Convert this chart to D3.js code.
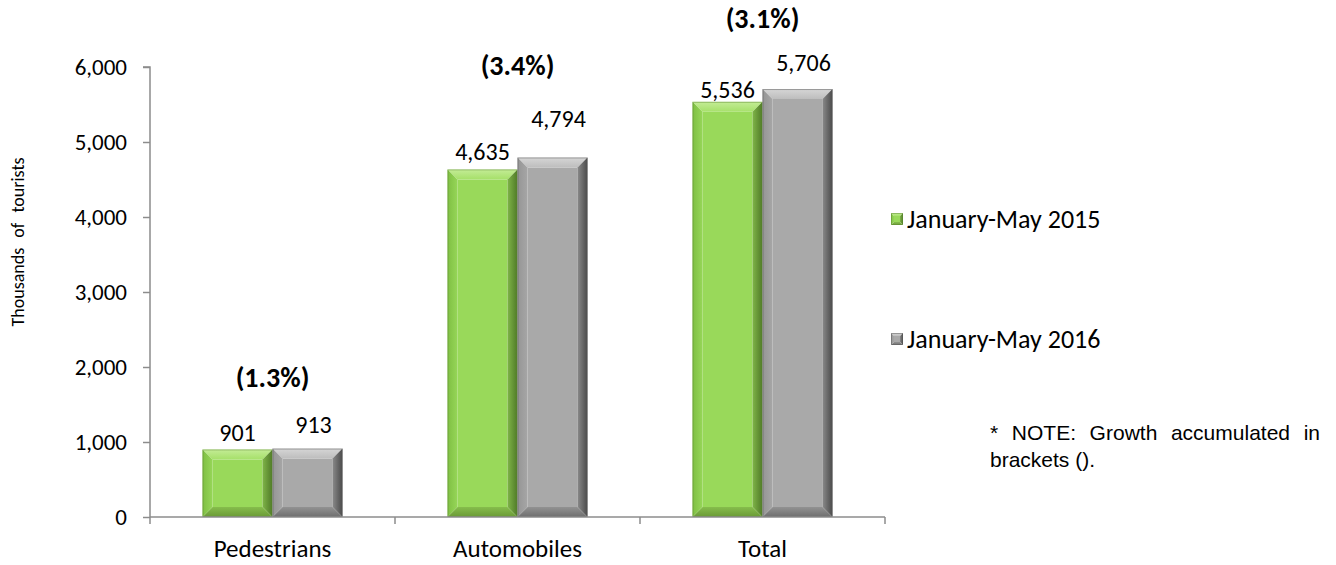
<!DOCTYPE html>
<html>
<head>
<meta charset="utf-8">
<script src="https://cdn.jsdelivr.net/npm/d3@7"></script>
<style>
  html, body { margin: 0; padding: 0; background: #fff; }
  svg text { font-family: Carlito, Calibri, Lato, "Open Sans", sans-serif; fill: #000; }
</style>
</head>
<body>
<svg id="chart" width="1336" height="565"></svg>
<script>
// Tourist arrivals by mode of entry, thousands
const categories = ["Pedestrians", "Automobiles", "Total"];
const seriesNames = ["January-May 2015", "January-May 2016"];
const values2015 = [901, 4635, 5536];
const values2016 = [913, 4794, 5706];
const growthLabels = ["(1.3%)", "(3.4%)", "(3.1%)"];
const yTicks = [0, 1000, 2000, 3000, 4000, 5000, 6000];

const svg = d3.select("#chart");
const m = { left: 150, right: 885, top: 67, bottom: 517 };

// label placement (pixels above the bar top)
const valueLabelDy = [[-8, -9, -4], [-16, -30, -18]];
const valueLabelDx = [0, 6];
const growthLabelDy = [-62, -82, -61];

const x = d3.scaleBand().domain(categories).range([m.left, m.right]).paddingInner(0).paddingOuter(0);
const xs = d3.scaleBand().domain([0, 1]).range([0, x.bandwidth()]).paddingInner(0).paddingOuter(0.75);
const y = d3.scaleLinear().domain([0, 6000]).range([m.bottom, m.top]);

// gradients for the bevelled edges
const defs = svg.append("defs");
function grad(id, x2, y2, stops) {
  const g = defs.append("linearGradient").attr("id", id)
    .attr("x1", 0).attr("y1", 0).attr("x2", x2).attr("y2", y2);
  stops.forEach(([o, c]) => g.append("stop").attr("offset", o).attr("stop-color", c));
  return `url(#${id})`;
}

const palettes = [
  {
    face: "#99d95a",
    top: grad("gTop", 0, 1, [[0, "#c4ec96"], [1, "#a6e06a"]]),
    left: grad("gLeft", 1, 0, [[0, "#7fbf43"], [1, "#96d658"]]),
    right: grad("gRight", 1, 0, [[0, "#7fb448"], [1, "#4f7a27"]]),
    bottom: grad("gBot", 0, 1, [[0, "#86bd4c"], [1, "#6a9a36"]]),
    edge: "#5d8a2f"
  },
  {
    face: "#a9a9a9",
    top: grad("sTop", 0, 1, [[0, "#d6d6d6"], [1, "#bdbdbd"]]),
    left: grad("sLeft", 1, 0, [[0, "#959595"], [1, "#a6a6a6"]]),
    right: grad("sRight", 1, 0, [[0, "#8a8a8a"], [1, "#4a4a4a"]]),
    bottom: grad("sBot", 0, 1, [[0, "#929292"], [1, "#6e6e6e"]]),
    edge: "#5a5a5a"
  }
];

function bevelBar(g, x0, x1, yTop, yBot, pal, b) {
  b = Math.min(b, (x1 - x0) / 2, (yBot - yTop) / 2);
  const poly = (pts, fill) => g.append("polygon")
    .attr("points", pts.map(p => p.join(",")).join(" ")).attr("fill", fill);
  poly([[x0 + b, yTop + b], [x1 - b, yTop + b], [x1 - b, yBot - b], [x0 + b, yBot - b]], pal.face);
  poly([[x0, yTop], [x1, yTop], [x1 - b, yTop + b], [x0 + b, yTop + b]], pal.top);
  poly([[x0, yTop], [x0 + b, yTop + b], [x0 + b, yBot - b], [x0, yBot]], pal.left);
  poly([[x1, yTop], [x1, yBot], [x1 - b, yBot - b], [x1 - b, yTop + b]], pal.right);
  poly([[x0, yBot], [x0 + b, yBot - b], [x1 - b, yBot - b], [x1, yBot]], pal.bottom);
  g.append("rect").attr("x", x0 + 0.5).attr("y", yTop + 0.5)
    .attr("width", x1 - x0 - 1).attr("height", yBot - yTop - 1)
    .attr("fill", "none").attr("stroke", pal.edge).attr("stroke-opacity", 0.5).attr("stroke-width", 1);
}

const seriesValues = [values2015, values2016];

categories.forEach((c, i) => {
  seriesValues.forEach((vals, s) => {
    const x0 = x(c) + xs(s);
    const x1 = x0 + xs.bandwidth();
    const g = svg.append("g");
    bevelBar(g, x0, x1, y(vals[i]), y(0), palettes[s], 10);
    svg.append("text")
      .attr("x", (x0 + x1) / 2 + valueLabelDx[s])
      .attr("y", y(vals[i]) + valueLabelDy[s][i])
      .attr("text-anchor", "middle")
      .attr("font-size", 24)
      .text(d3.format(",")(vals[i]));
  });
});

// growth labels above each category
categories.forEach((c, i) => {
  svg.append("text")
    .attr("x", x(c) + x.bandwidth() / 2)
    .attr("y", y(Math.max(values2015[i], values2016[i])) + growthLabelDy[i])
    .attr("text-anchor", "middle")
    .attr("font-size", 28)
    .attr("font-weight", "bold")
    .text(growthLabels[i]);
});

// axes
const axisColor = "#8c8c8c";
const yAxis = svg.append("g").attr("transform", `translate(${m.left},0)`)
  .call(d3.axisLeft(y).tickValues(yTicks).tickFormat(d3.format(",")).tickSize(7).tickPadding(16));
const xAxis = svg.append("g").attr("transform", `translate(0,${m.bottom})`)
  .call(d3.axisBottom(x).tickSize(0).tickPadding(22));
xAxis.selectAll(".tick line").remove();
const xTickPos = [m.left].concat(categories.map(c => x(c) + x.bandwidth()));
xAxis.selectAll(".sep").data(xTickPos).enter().append("line")
  .attr("x1", d => d).attr("x2", d => d).attr("y1", 0).attr("y2", 7)
  .attr("stroke", axisColor).attr("stroke-width", 1.5);
[yAxis, xAxis].forEach(a => {
  a.selectAll(".domain").attr("stroke", axisColor).attr("stroke-width", 1.5);
  a.selectAll(".tick line").attr("stroke", axisColor).attr("stroke-width", 1.5);
  a.selectAll("text").attr("fill", "#000")
    .style("font-family", "Carlito, Calibri, Lato, 'Open Sans', sans-serif");
});
yAxis.selectAll("text").attr("font-size", 23);
xAxis.selectAll("text").attr("font-size", 25);
yAxis.select(".domain").attr("d", `M-7,${y(6000)}H0V${y(0)}`);
xAxis.select(".domain").attr("d", `M${m.left},0H${m.right}`);

// axis title
svg.append("text")
  .attr("transform", "translate(24,242) rotate(-90)")
  .attr("text-anchor", "middle")
  .attr("font-size", 18)
  .attr("word-spacing", 6)
  .text("Thousands of tourists");

// legend
const legendY = [219, 339];
seriesNames.forEach((n, s) => {
  const g = svg.append("g");
  bevelBar(g, 891, 903, legendY[s] - 6, legendY[s] + 6, palettes[s], 3);
  svg.append("text").attr("x", 907).attr("y", legendY[s] + 9)
    .attr("font-size", 26).text(n);
});

// note, first line justified across the text box
const noteFont = "'Liberation Sans', Arial, sans-serif";
const noteLeft = 990, noteRight = 1320;
const line1 = svg.append("text").attr("x", noteLeft).attr("y", 440).attr("font-size", 21)
  .style("font-family", noteFont).text("* NOTE: Growth accumulated in");
const w1 = line1.node().getComputedTextLength();
const gaps = line1.text().split(" ").length - 1;
line1.attr("word-spacing", Math.max(0, (noteRight - noteLeft - w1) / gaps));
svg.append("text").attr("x", noteLeft).attr("y", 467).attr("font-size", 21)
  .style("font-family", noteFont).text("brackets ().");
</script>
</body>
</html>
